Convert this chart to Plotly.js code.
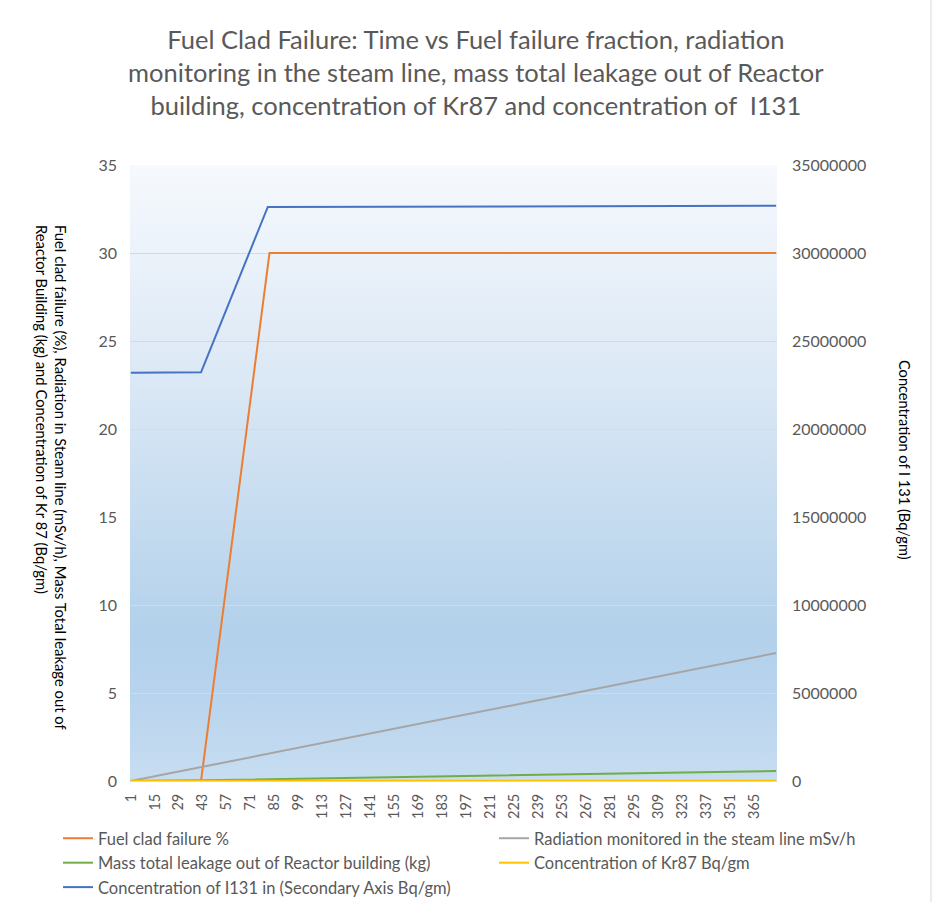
<!DOCTYPE html>
<html>
<head>
<meta charset="utf-8">
<script src="https://cdn.plot.ly/plotly-3.0.1.min.js"></script>
<style>
  html, body { margin: 0; padding: 0; background: #ffffff; }
  #chart { width: 933px; height: 902px; }
</style>
</head>
<body>
<div id="chart"></div>
<script>
// Time steps and readings for each monitored quantity (breakpoints of each line)
const fuelTime = [1, 42, 82, 378];
const fuelCladFailurePct = [0, 0, 30, 30];

const radiationTime = [1, 378];
const radiationSteamLine = [0, 7.27];

const leakageTime = [1, 43, 378];
const leakageMassKg = [0, 0.04, 0.57];

const kr87Time = [1, 378];
const kr87Concentration = [0.02, 0.02];

const i131Time = [1, 42, 81, 160, 270, 378];
const i131Concentration = [23200000, 23220000, 32620000, 32640000, 32670000, 32680000];

const seriesNames = [
  'Fuel clad failure %',
  'Radiation monitored in the steam line mSv/h',
  'Mass total leakage out of Reactor building (kg)',
  'Concentration of Kr87 Bq/gm',
  'Concentration of I131 in (Secondary Axis Bq/gm)'
];
const seriesColors = ['#ED7D31', '#A5A5A5', '#70AD47', '#FFC000', '#4472C4'];

const lastStep = 378;
const font = 'Lato, "Open Sans", "DejaVu Sans", sans-serif';
const textGray = '#595959';

// Helpers to convert pixel positions around the plotting area into paper units
const plotL = 130, plotR = 777, plotT = 165, plotB = 781;
const px = v => (v - plotL) / (plotR - plotL);
const py = v => (plotB - v) / (plotB - plotT);

function lineTrace(x, y, i, legendId, axis) {
  return {
    x: x, y: y, name: seriesNames[i], type: 'scatter', mode: 'lines',
    yaxis: axis || 'y', legend: legendId,
    line: { color: seriesColors[i], width: 2 },
    hoverinfo: 'x+y+name'
  };
}

// Left legend column: orange, green, blue; right column: gray, yellow
const traces = [
  lineTrace(fuelTime, fuelCladFailurePct, 0, 'legend'),
  lineTrace(radiationTime, radiationSteamLine, 1, 'legend2'),
  lineTrace(leakageTime, leakageMassKg, 2, 'legend'),
  lineTrace(kr87Time, kr87Concentration, 3, 'legend2'),
  lineTrace(i131Time, i131Concentration, 4, 'legend', 'y2')
];

// Soft vertical gradient for the plotting area
const gradientSvg =
  '<svg xmlns="http://www.w3.org/2000/svg" width="100" height="100" preserveAspectRatio="none">' +
  '<defs><linearGradient id="g" x1="0" y1="0" x2="0" y2="1">' +
  '<stop offset="0" stop-color="#f6f9fd"/>' +
  '<stop offset="0.35" stop-color="#dbe8f5"/>' +
  '<stop offset="0.76" stop-color="#b3d1eb"/>' +
  '<stop offset="0.85" stop-color="#b7d3ed"/>' +
  '<stop offset="1" stop-color="#c7ddf1"/>' +
  '</linearGradient></defs>' +
  '<rect width="100" height="100" fill="url(#g)"/></svg>';

const legendBase = {
  orientation: 'v',
  yanchor: 'top', xanchor: 'left',
  y: py(821),
  font: { family: font, size: 16.5, color: textGray },
  traceorder: 'normal',
  bgcolor: 'rgba(0,0,0,0)',
  tracegroupgap: 0
};

const layout = {
  width: 933, height: 902,
  margin: { l: plotL, r: 933 - plotR, t: plotT, b: 902 - plotB, autoexpand: false },
  paper_bgcolor: '#ffffff',
  plot_bgcolor: 'rgba(0,0,0,0)',
  font: { family: font, color: textGray },
  showlegend: true,
  title: {
    text: 'Fuel Clad Failure: Time vs Fuel failure fraction, radiation<br>monitoring in the steam line, mass total leakage out of Reactor<br>building, concentration of Kr87 and concentration of  I131',
    font: { family: font, size: 25.5, color: textGray },
    x: 0.51, xanchor: 'center',
    y: 1 - 49 / 902, yanchor: 'middle', yref: 'container'
  },
  xaxis: {
    range: [0.5, lastStep + 0.5],
    tickmode: 'linear', tick0: 1, dtick: 14,
    tickangle: -90,
    tickfont: { family: font, size: 14.5, color: textGray },
    ticklabelstandoff: 6,
    showgrid: false, zeroline: false,
    showline: true, linecolor: '#d9d9d9', linewidth: 1,
    ticks: ''
  },
  yaxis: {
    range: [0, 35], dtick: 5,
    tickfont: { family: font, size: 16, color: textGray },
    ticklabelstandoff: 12,
    gridcolor: '#d9d9d9', gridwidth: 1,
    zeroline: false, showline: false, ticks: ''
  },
  yaxis2: {
    range: [0, 35000000], dtick: 5000000, tickformat: 'd',
    overlaying: 'y', side: 'right',
    tickfont: { family: font, size: 16, color: textGray },
    ticklabelstandoff: 14,
    showgrid: false, zeroline: false, showline: false, ticks: ''
  },
  legend: Object.assign({}, legendBase, { x: px(58) }),
  legend2: Object.assign({}, legendBase, { x: px(494) }),
  images: [{
    source: 'data:image/svg+xml;charset=utf-8,' + encodeURIComponent(gradientSvg),
    xref: 'paper', yref: 'paper',
    x: 0, y: 1, sizex: 1, sizey: 1,
    sizing: 'stretch', xanchor: 'left', yanchor: 'top',
    layer: 'below'
  }],
  annotations: [
    {
      text: 'Fuel clad failure (%), Radiation in Steam line (mSv/h), Mass Total leakage out of<br>Reactor Building (kg) and Concentration of Kr 87 (Bq/gm)',
      xref: 'paper', yref: 'paper',
      x: px(52), y: py(477),
      xanchor: 'center', yanchor: 'middle',
      textangle: 90, align: 'left', showarrow: false,
      font: { family: font, size: 14.8, color: '#000000' }
    },
    {
      text: 'Concentration of I 131 (Bq/gm)',
      xref: 'paper', yref: 'paper',
      x: px(905), y: py(460),
      xanchor: 'center', yanchor: 'middle',
      textangle: 90, showarrow: false,
      font: { family: font, size: 14.6, color: '#000000' }
    }
  ],
  shapes: [{
    type: 'line', xref: 'paper', yref: 'paper',
    x0: px(931), x1: px(931),
    y0: py(902), y1: py(0),
    line: { color: '#d9d9d9', width: 1 }
  }]
};

Plotly.newPlot('chart', traces, layout, { displayModeBar: false, staticPlot: true });
</script>
</body>
</html>
